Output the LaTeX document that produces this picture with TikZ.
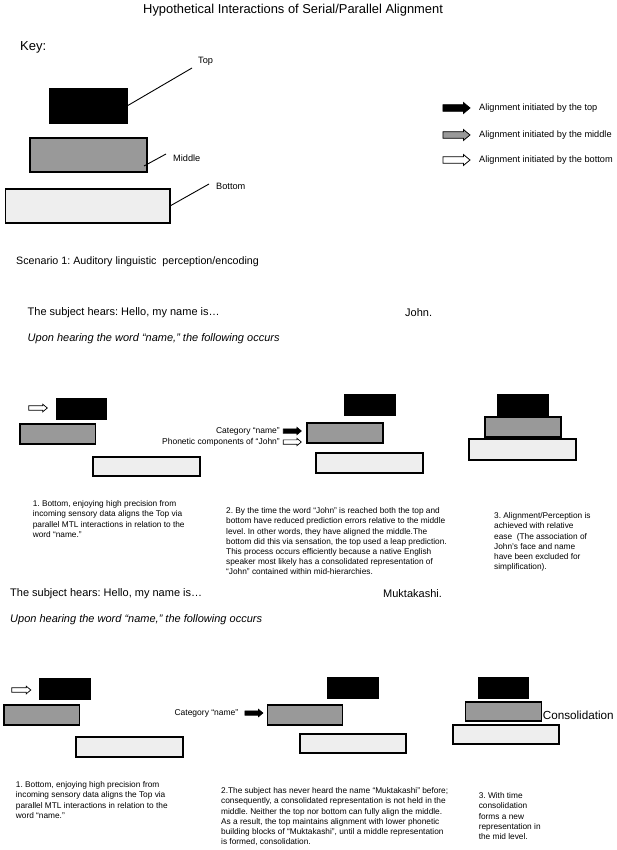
\documentclass[tikz,border=0pt]{standalone}
\usepackage{fontspec}
\setmainfont{Liberation Sans}
\usetikzlibrary{shapes.arrows}
\definecolor{midgrey}{HTML}{999999}
\definecolor{palegrey}{HTML}{EEEEEE}
\frenchspacing
\tikzset{
  blockbox/.style={draw=black, line width=1.3pt, inner sep=0pt, outer sep=0pt, anchor=north west},
  topbox/.style={blockbox, fill=black},
  midbox/.style={blockbox, fill=midgrey},
  botbox/.style={blockbox, fill=palegrey},
  bigarrow/.style={single arrow, draw=black, line width=0.8pt, inner sep=2.6pt, minimum height=27pt, minimum width=11pt, single arrow head extend=2pt, single arrow tip angle=80, anchor=center},
  smallarrow/.style={single arrow, draw=black, line width=0.7pt, inner sep=1.8pt, minimum height=18pt, minimum width=7.5pt, single arrow head extend=1.5pt, single arrow tip angle=80, anchor=center},
  keyline/.style={draw=black, line width=0.9pt},
  smalltext/.style={font=\fontsize{8.3}{10.2}\selectfont, align=left, inner sep=0pt, anchor=north west},
  maintext/.style={font=\fontsize{11}{13}\selectfont, inner sep=0pt, anchor=west},
  italtext/.style={font=\fontsize{11}{13}\selectfont\itshape, inner sep=0pt, anchor=west},
  labeltext/.style={font=\fontsize{9.2}{11}\selectfont, inner sep=0pt, anchor=west},
  arrowlabel/.style={font=\fontsize{8.5}{10}\selectfont, inner sep=0pt, anchor=east},
}
\begin{document}
\begin{tikzpicture}[x=1pt, y=-1pt]
\fill[white] (0,0) rectangle (616,850);
\useasboundingbox (0,0) rectangle (616,850);

% title and key
\node[font=\fontsize{12.9}{15}\selectfont, inner sep=0pt, anchor=west] (title) at (143,10) {Hypothetical Interactions of Serial/Parallel Alignment};
\node[font=\fontsize{13}{15}\selectfont, inner sep=0pt, anchor=west] (key) at (20,47) {Key:};

\node[topbox, minimum width=77, minimum height=34] (ktop) at (50,89) {};
\node[midbox, minimum width=117, minimum height=34] (kmid) at (30,138) {};
\node[botbox, minimum width=164.5, minimum height=34] (kbot) at (5.5,189) {};

\node[labeltext] (ltop) at (198,61) {Top};
\node[labeltext] (lmid) at (173,158) {Middle};
\node[labeltext] (lbot) at (216,186) {Bottom};
\coordinate (ctop) at (192,68);
\coordinate (cmid) at (166,154);
\coordinate (cbot) at (209,184);
\draw[keyline] (ktop.east) -- (ctop);
\draw[keyline] ([shift={(-3,-6)}]kmid.south east) -- (cmid);
\draw[keyline] (kbot.east) -- (cbot);

% legend
\node[bigarrow, fill=black] (legtop) at (454.5,108) {};
\node[bigarrow, fill=midgrey] (legmid) at (454.5,135) {};
\node[bigarrow, fill=white] (legbot) at (454.5,160) {};
\node[labeltext] (legtoptxt) at (479,108) {Alignment initiated by the top};
\node[labeltext] (legmidtxt) at (479,135) {Alignment initiated by the middle};
\node[labeltext] (legbottxt) at (479,160) {Alignment initiated by the bottom};

% scenario 1
\node[font=\fontsize{10.7}{13}\selectfont, inner sep=0pt, anchor=west] (scen) at (16,262) {Scenario 1: Auditory linguistic\ \ perception/encoding};
\node[maintext] (hears1) at (27.5,313) {The subject hears: Hello, my name is…};
\node[maintext] (john) at (405,313) {John.};
\node[italtext] (upon1) at (27.5,339) {Upon hearing the word “name,” the following occurs};

% S1 column 1
\node[smallarrow, fill=white, minimum height=18.5pt] (a1arr) at (36.75,408) {};
\node[topbox, minimum width=49.5, minimum height=20] (a1t) at (57,399) {};
\node[midbox, minimum width=75.5, minimum height=20] (a1m) at (20,424) {};
\node[botbox, minimum width=107, minimum height=19] (a1b) at (93,457) {};
% S1 column 2
\node[topbox, minimum width=50.4, minimum height=20] (a2t) at (344.6,395) {};
\node[midbox, minimum width=76, minimum height=20] (a2m) at (307,423) {};
\node[botbox, minimum width=107, minimum height=20] (a2b) at (316,453) {};
\node[arrowlabel] (a2cat) at (280,431) {Category “name”};
\node[arrowlabel] (a2pho) at (280,442) {Phonetic components of “John”};
\node[smallarrow, fill=black, minimum width=6.5pt] (a2catarr) at (291,431) {};
\node[smallarrow, fill=white, minimum width=6.5pt] (a2phoarr) at (291,442) {};
% S1 column 3
\node[topbox, minimum width=50, minimum height=20] (a3t) at (498,395) {};
\node[midbox, minimum width=76, minimum height=20] (a3m) at (485,417) {};
\node[botbox, minimum width=107, minimum height=21] (a3b) at (469,439) {};

\node[smalltext] (a1txt) at (32.6,500.5) {1. Bottom, enjoying high precision from\\incoming sensory data aligns the Top via\\parallel MTL interactions in relation to the\\word “name.”};
\node[smalltext] (a2txt) at (226,507.5) {2. By the time the word “John” is reached both the top and\\bottom have reduced prediction errors relative to the middle\\level. In other words, they have aligned the middle.The\\bottom did this via sensation, the top used a leap prediction.\\This process occurs efficiently because a native English\\speaker most likely has a consolidated representation of\\“John” contained within mid-hierarchies.};
\node[smalltext] (a3txt) at (494,512.5) {3. Alignment/Perception is\\achieved with relative\\ease\ \ (The association of\\John’s face and name\\have been excluded for\\simplification).};

% scenario 2
\node[maintext] (hears2) at (10,594) {The subject hears: Hello, my name is…};
\node[maintext] (mukta) at (383,594) {Muktakashi.};
\node[italtext] (upon2) at (10,620) {Upon hearing the word “name,” the following occurs};

% S2 column 1
\node[smallarrow, fill=white, minimum height=19pt] (b1arr) at (20,690) {};
\node[topbox, minimum width=50.7, minimum height=20] (b1t) at (39.7,679) {};
\node[midbox, minimum width=75.4, minimum height=20] (b1m) at (4,705) {};
\node[botbox, minimum width=107, minimum height=20] (b1b) at (76,737) {};
% S2 column 2
\node[topbox, minimum width=50, minimum height=20] (b2t) at (328,678) {};
\node[midbox, minimum width=75, minimum height=20] (b2m) at (267.6,705) {};
\node[botbox, minimum width=106, minimum height=19] (b2b) at (300,734) {};
\node[arrowlabel] (b2cat) at (238.5,713) {Category “name”};
\node[smallarrow, fill=black, minimum width=7pt] (b2catarr) at (252.6,713) {};
% S2 column 3
\node[topbox, minimum width=50, minimum height=20] (b3t) at (478.6,678) {};
\node[midbox, minimum width=76, minimum height=19] (b3m) at (465.6,702) {};
\node[botbox, minimum width=106, minimum height=19] (b3b) at (453,725) {};
\node[font=\fontsize{11.7}{14}\selectfont, inner sep=0pt, anchor=west] (consol) at (542.6,715) {Consolidation};

\node[smalltext] (b1txt) at (15.7,781.5) {1. Bottom, enjoying high precision from\\incoming sensory data aligns the Top via\\parallel MTL interactions in relation to the\\word “name.”};
\node[smalltext] (b2txt) at (221,787.5) {2.The subject has never heard the name “Muktakashi” before;\\consequently, a consolidated representation is not held in the\\middle. Neither the top nor bottom can fully align the middle.\\As a result, the top maintains alignment with lower phonetic\\building blocks of “Muktakashi”, until a middle representation\\is formed, consolidation.};
\node[smalltext] (b3txt) at (478.6,792.5) {3. With time\\consolidation\\forms a new\\representation in\\the mid level.};
\end{tikzpicture}
\end{document}
